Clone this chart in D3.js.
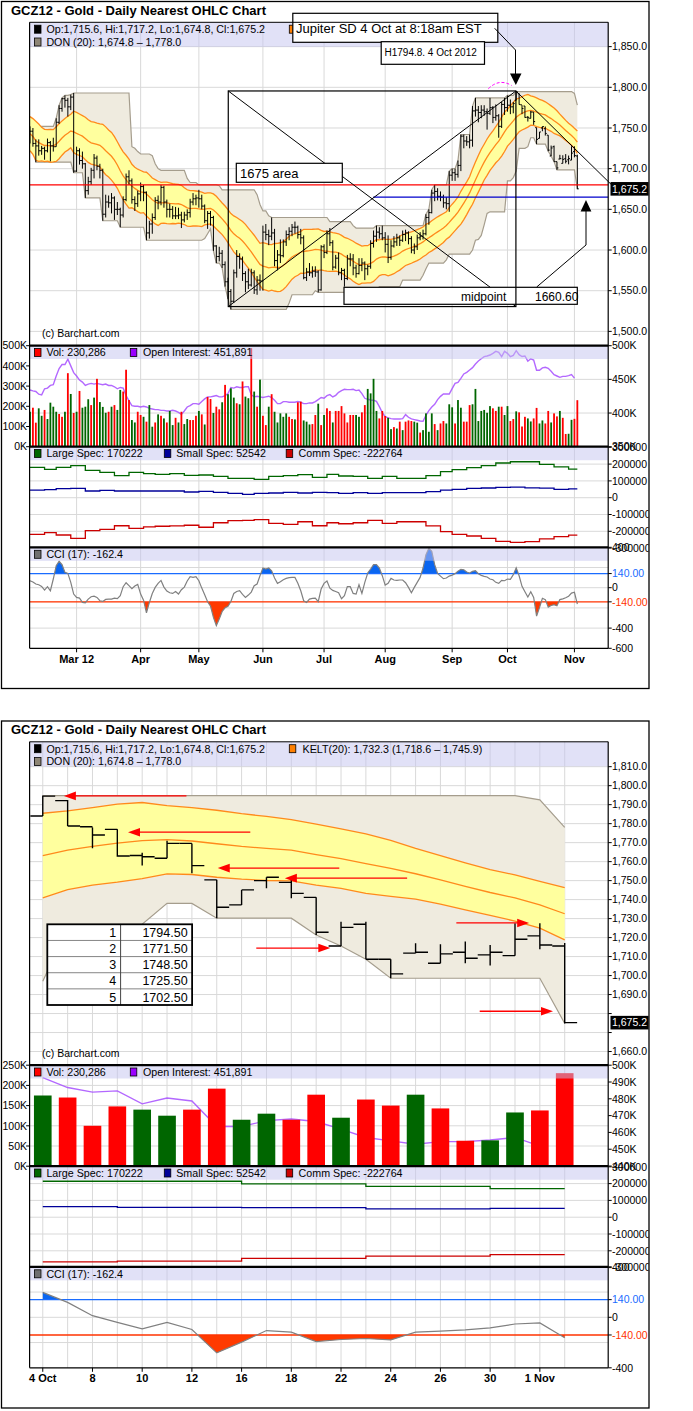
<!DOCTYPE html>
<html>
<head>
<meta charset="utf-8">
<script src="https://cdnjs.cloudflare.com/ajax/libs/d3/7.8.5/d3.min.js"></script>
<style>
  body { margin: 0; background: #fff; }
  svg text { font-family: 'Liberation Sans', Arial, sans-serif; }
</style>
</head>
<body>
<script>
// ---------------- data ----------------
var holidays = ['2012-02-20', '2012-04-06', '2012-05-28', '2012-07-04', '2012-09-03'];

var op = [1738,1746,1731,1728,1722,1725,1722,1732,1728,1727,1757,1774,1786,1784,1776,1788,
  1697,1722,1710,1706,1673,1684,1698,1713,1703,1698,1644,1659,1658,1664,1650,1650,1643,1662,1690,1685,1662,1657,
  1669,1678,1671,1621,1632,1640,1661,1659,1677,1659,1650,1650,1642,1642,1643,1637,1643,1646,1659,1663,
  1664,1663,1654,1636,1645,1640,1605,1592,1596,1582,1561,1549,1537,1572,1592,1589,1571,1561,1557,1572,1551,1563,
  1562,1622,1619,1617,1621,1587,1594,1593,1610,1619,1623,1628,1628,1619,1615,1566,1573,1572,1574,1573,1551,
  1604,1597,1620,1609,1579,1590,1572,1575,1565,1589,1589,1578,1571,1581,1584,1577,1580,1608,1617,1622,1620,
  1615,1607,1591,1605,1610,1615,1612,1619,1621,1614,1600,1604,1615,1617,1620,1640,1646,1670,1672,1666,1665,1658,1657,
  1692,1695,1693,1704,1740,1734,1733,1735,1771,1772,1769,1772,1770,1768,1775,1763,1765,1752,1779,
  1775,1778,1776,
  1784,1792.1,1778.4,1777,1763.2,1761.8,1769.6,1750.4,1737.2,1750,1749.1,1741.2,1715.6,1727,1708.6,1711.8,1706.5,1712.3,1710.9,1710.5,1720.9,1715.6];
var hi = [1752,1750,1736,1736,1728,1727,1737,1734,1738,1762,1778,1787,1790,1787,1791,1793,
  1727,1725,1721,1707,1690,1701,1718,1716,1706,1700,1668,1667,1670,1666,1659,1652,1666,1694,1698,1688,1666,1673,
  1683,1680,1672,1636,1645,1665,1667,1680,1679,1662,1657,1654,1653,1652,1647,1647,1650,1663,1670,1668,
  1674,1668,1656,1648,1648,1642,1606,1604,1600,1586,1566,1552,1576,1600,1596,1592,1574,1577,1577,1575,1568,1570,
  1630,1632,1625,1640,1626,1600,1613,1613,1624,1628,1632,1635,1630,1626,1618,1578,1584,1580,1580,1575,1606,
  1607,1624,1627,1612,1594,1597,1578,1577,1594,1596,1595,1582,1590,1590,1586,1582,1612,1624,1630,1628,1630,
  1622,1618,1612,1617,1620,1618,1624,1625,1623,1617,1608,1619,1622,1625,1644,1650,1674,1680,1676,1672,1668,1665,1697,
  1700,1700,1710,1742,1742,1740,1742,1777,1787,1777,1778,1778,1774,1787,1777,1779,1767,1782,1787,
  1790,1785,1782,
  1794.8,1792.5,1778.0,1777,1764.7,1771,1769.6,1750.4,1745.1,1751.8,1751.8,1741.2,1728.4,1728.4,1708.6,1717,1716.5,1717.9,1716.1,1727.5,1727.5,1717.2];
var lo = [1731,1727,1708,1716,1717,1711,1720,1709,1721,1727,1755,1770,1775,1764,1772,1695,
  1696,1705,1700,1664,1668,1680,1688,1698,1688,1636,1640,1652,1645,1637,1643,1628,1640,1660,1680,1657,1648,1653,
  1660,1660,1612,1614,1620,1637,1650,1655,1652,1640,1640,1638,1638,1638,1627,1634,1637,1640,1655,1655,
  1652,1650,1633,1626,1630,1599,1584,1586,1578,1555,1540,1527,1535,1566,1577,1562,1548,1552,1555,1546,1545,1550,
  1550,1612,1606,1612,1580,1575,1584,1591,1605,1612,1617,1620,1614,1607,1564,1562,1568,1566,1567,1548,1550,
  1590,1595,1605,1575,1577,1569,1563,1555,1563,1580,1569,1566,1570,1574,1563,1569,1577,1603,1610,1614,1612,
  1597,1584,1588,1603,1605,1605,1610,1611,1607,1596,1595,1600,1612,1613,1618,1631,1645,1660,1661,1660,1652,1650,1647,
  1685,1685,1689,1697,1725,1728,1725,1727,1764,1757,1762,1765,1748,1766,1756,1759,1738,1750,1766,
  1770,1767,1768,
  1784,1778.8,1767,1762.6,1757.9,1761.8,1753.9,1730.2,1737.2,1746,1740.7,1721.4,1715.6,1708.6,1698.6,1711.8,1706.5,1706.5,1705.3,1710.5,1713.9,1674.8];
var cl = [1746,1731,1728,1722,1725,1722,1732,1728,1727,1757,1774,1786,1784,1776,1788,1697,
  1722,1710,1706,1673,1684,1698,1713,1703,1698,1644,1659,1658,1664,1650,1650,1643,1662,1690,1685,1662,1657,1669,
  1678,1671,1621,1632,1640,1661,1659,1677,1659,1650,1650,1642,1642,1643,1637,1643,1646,1659,1663,1664,
  1663,1654,1636,1645,1640,1605,1592,1596,1582,1561,1549,1537,1572,1592,1589,1571,1561,1557,1572,1551,1563,1562,
  1622,1619,1617,1621,1587,1594,1593,1610,1619,1623,1628,1628,1619,1615,1566,1573,1572,1574,1573,1551,1604,
  1597,1620,1609,1579,1590,1572,1575,1565,1589,1589,1578,1571,1581,1584,1577,1580,1608,1617,1622,1620,1615,
  1607,1591,1605,1610,1615,1612,1619,1621,1614,1600,1604,1615,1617,1620,1640,1646,1670,1672,1666,1665,1658,1657,1692,
  1695,1693,1704,1740,1734,1733,1735,1771,1772,1769,1772,1770,1768,1775,1763,1765,1752,1779,1775,
  1778,1776,1780,
  1794.5,1778.8,1774,1763,1762.6,1769.6,1757.9,1736,1745.1,1751.8,1743.3,1722.8,1725.4,1708.6,1700.9,1712.3,1711.4,1709.1,1712.3,1719.1,1716.1,1675.2];

// volume in thousands, G = up day, R = down day
var vol = [173,193,119,190,153,182,137,218,198,173, 162,148,173,364,261,167,173,276,193,198,
  235,206,243,336,221,197,168,173,198,206, 182,281,273,381,231,132,120,173,157,148,
  124,206,99,120,160,153,140,120,177,107, 143,120,173,112,137,132,132,153,177,160,
  110,246,236,167,198,185,220,306,260,289, 243,215,210,323,248,240,488,273,198,332,
  153,107,198,260,173,120,165,148,165,148, 137,135,220,223,130,124,110,112,157,213, 107,
  157,190,177,120,177,177,201,165,120,157, 157,157,148,170,206,286,264,336,177,140,
  177,152,143,87,97,90,124,82,124,130, 127,124,119,70,82,165,74,165,112,82,
  115,127,115,210,195,115,231,193,124,124, 206,210,286,127,177,182,168,201,190,177,
  198,198,157,201,127,137,
  175,170,100,148,140,125,140,192,115,130,115,177,120,165,150,177,143,63,64,133,138,230.286];
var volDir = ('GRRGGRGGGG' + 'RRGRGRGRGG' + 'GRGRGGGRGR' + 'GGRRRGGRRG' + 'RGGRGRGRGG' +
  'RGRGGRRRGR' + 'GRRGRRGRGG' + 'GRGRGGRGRG' + 'RRGRGGGGGR' + 'RGRRGGGRRG' + 'R' +
  'GRRGRRRRRR' + 'RGGRRGGGGR' + 'RRGGRGRGRR' + 'RGGRGGGGRG' + 'RRGGGRGGRR' + 'RGGGGGGGRR' +
  'GRGGRR' + 'GRRRGGRRGGRRGRRGRRGGRR').split('');

// open interest in thousands
var oi = [434.2,433,432,428,427,436,437,441,442,455, 466,472,472,480,470,460,455,449,446,441,
  443,444,443,444,443,442,443,441,441,439, 436,438,437,426,418,411,410,410,409,410,
  409,407,406,405,405,404,404,403,403,404, 403,401,398,403,409,411,414,414,413,417,
  421,424,424,425,426,424,424,426,429,438, 437,439,438,438,439,439,427,424,425,424,
  423,424,425,423,419,414,414,417,417,416, 416,416,417,416,414,414,415,415,417,420, 423,
  421.9,425.8,427.3,423.9,426.3,430.8,433.3,435.2,434.7,434.7, 435.2,433.3,434.2,428.8,421.9,420.4,419.4,418.9,417.4,409.5,
  400.6,394.7,392.7,391.7,391.2,391.2,391.2,391.7,397.6,393.7, 391.2,390.2,389.2,388.2,387.7,396.7,403.6,409,413,419.9,
  424.8,428.3,428.3,428.3,436.2,444.1,445.6,451.6,458,460.5, 463.9,467.4,472.8,477.3,480.7,483.7,484.7,486.2,488.7,491.6,
  490.1,483.7,491.6,488.7,483.7,485.7,
  492.6,486.7,484,484.7,477,480.5,478.7,463.5,463.5,467,468,466.5,462,457,455,453,454.5,454.5,455.5,457,451.891,null];

var cci = [69,56,36,29,13,-23,10,-30,86,218, 261,228,152,142,53,-63,-96,-103,-146,-149,
  -113,-90,-83,-96,-129,-136,-116,-113,-113,-103, -109,-80,10,49,20,-10,16,33,-63,-123,
  -248,-146,-57,3,43,72,6,-33,-50,-57, -37,-63,-20,6,66,109,102,109,69,-4,
  -70,-139,-182,-294,-375,-311,-235,-199,-185,-136, -57,-37,-30,-66,-96,-73,-43,20,36,119,
  195,185,195,168,96,43,59,79,92,99, 102,102,43,-30,-129,-146,-113,-106,-103,-139,
  -13,43,66,-4,-27,-37,-50,-109,-80,10, 10,-57,-63,29,-57,53,145,185,228,228,
  195,119,26,43,92,76,72,76,76,49, 3,-50,3,53,102,195,327,390,360,228,
  142,115,89,96,115,125,139,162,182,178, 155,145,162,168,139,122,112,106,86,79,
  53,43,72,69,86,82,129,
  197,118,13,-40,-92,-40,-97,-282,-197,-105,-118,-192,-176,-168,-179,-118,-110,-100,-84,-53,-45,-162.4];

// weekly commitments of traders, thousands of contracts
var cotLarge = [180.8,168.9,180.8,190.7,162.9,151,131.2,151,143.1,139.1,143.1,133.1,135.1,127.2,115.3,115.3,109.1,127.2,131.2,137.1,
  121.2,139.1,129.2,127.2,115.3,127.2,115.3,115.3,131.2,155,166.9,178.8,190.7,206.5,214,214,198.6,184,170.222];
var cotSmall = [45.6,47.8,53.8,55.8,39.9,43.8,39.9,39.9,39.9,39.9,39.9,33.9,37.9,31.9,26,20,26,28,31.9,28,
  31.9,30,26,30,26,30,30,30,35.9,45.6,49.8,55.8,57.7,61.7,63,58,57,50,52.542];
var cotComm = [-218,-208,-222,-242,-196,-188,-167,-182,-174,-170,-168,-164,-176,-149,-137,-135,-131,-153,-159,-143,
  -167,-149,-155,-149,-135,-153,-143,-143,-168,-202,-218,-228,-242,-260,-266,-262,-245,-232,-222.764];

var monthLabels = ['Mar 12', 'Apr', 'May', 'Jun', 'Jul', 'Aug', 'Sep', 'Oct', 'Nov'];
var monthNums = [2, 3, 4, 5, 6, 7, 8, 9, 10];
var dayLabels = ['4 Oct', '8', '10', '12', '16', '18', '22', '24', '26', '30', '1 Nov'];
var dayDates = ['2012-10-04', '2012-10-08', '2012-10-10', '2012-10-12', '2012-10-16', '2012-10-18',
  '2012-10-22', '2012-10-24', '2012-10-26', '2012-10-30', '2012-11-01'];

var priceTicksTop = [1500, 1550, 1600, 1650, 1700, 1750, 1800, 1850];
var priceTicksZoom = [1660, 1670, 1680, 1690, 1700, 1710, 1720, 1730, 1740, 1750, 1760, 1770, 1780, 1790, 1800, 1810];
var volTicksTop = [0, 100, 200, 300, 400, 500];
var volTicksZoom = [0, 50, 100, 150, 200, 250];
var oiTicksTop = [350, 400, 450, 500];
var oiTicksZoom = [440, 450, 460, 470, 480, 490, 500];
var cotTicks = [300000, 200000, 100000, 0, -100000, -200000, -300000];
var cciTicksTop = [400, 140, 0, -140, -400, -600];
var cciTicksZoom = [400, 140, 0, -140, -400];

var tableRows = [1794.50, 1771.50, 1748.50, 1725.50, 1702.50];
// hand-drawn arrows on the zoomed chart: [price, tail bar, tip bar] (bars counted from 4 Oct)
var zoomArrows = [[1794.6, 5.78, 0.85], [1775.5, 8.35, 3.43], [1756.6, 11.93, 7.04], [1751.3, 14.66, 9.74],
  [1727.7, 16.64, 19.57], [1714.5, 8.59, 11.57], [1681.2, 17.58, 20.53]];

// ---------------- derived ----------------
var W = 693, H = 1411, PL = 29.6, PR = 608.2;
var svg = d3.select('body').append('svg').attr('width', W).attr('height', H).style('display', 'block');
var defs = svg.append('defs');

var dates = [];
for (var t = Date.UTC(2012, 1, 7); t <= Date.UTC(2012, 10, 2); t += 864e5) {
  var dt = new Date(t), wd = dt.getUTCDay();
  if (wd > 0 && wd < 6 && holidays.indexOf(dt.toISOString().slice(0, 10)) < 0) dates.push(dt);
}
var week = dates.map(function (d) { return Math.floor((d - dates[0]) / (7 * 864e5)); });
var monthIdx = monthNums.map(function (m) {
  return dates.findIndex(function (d) { return d.getUTCMonth() === m; });
});
var dayIdx = dayDates.map(function (s) {
  return dates.findIndex(function (d) { return d.toISOString().slice(0, 10) === s; });
});

function win(i, n) { return d3.range(Math.max(0, i - n + 1), i + 1); }
var donHi = cl.map(function (_, i) { return d3.max(win(i, 20), function (j) { return hi[j]; }); });
var donLo = cl.map(function (_, i) { return d3.min(win(i, 20), function (j) { return lo[j]; }); });
var kMid = cl.map(function (_, i) { return d3.mean(win(i, 20), function (j) { return (hi[j] + lo[j] + cl[j]) / 3; }); });
var kRng = cl.map(function (_, i) { return d3.mean(win(i, 20), function (j) { return hi[j] - lo[j]; }); });

var fmtP = d3.format(',.1f');

function label(sel, x, y, s, o) {
  o = o || {};
  return sel.append('text').attr('x', x).attr('y', y).text(s)
    .attr('font-size', o.size || 10.7)
    .attr('font-weight', o.bold ? 'bold' : null)
    .attr('font-family', o.serif ? "'Liberation Serif', 'Times New Roman', serif" : null)
    .attr('text-anchor', o.anchor || 'start')
    .attr('fill', o.fill || '#000');
}
function sq(sel, x, yc, color) {
  sel.append('rect').attr('x', x).attr('y', yc - 4).attr('width', 6.5).attr('height', 8)
    .attr('fill', color).attr('stroke', '#000').attr('stroke-width', 0.8);
}
function box(sel, x, y, w, h, sw) {
  return sel.append('rect').attr('x', x).attr('y', y).attr('width', w).attr('height', h)
    .attr('fill', '#fff').attr('stroke', '#000').attr('stroke-width', sw || 1.2);
}
function seg(sel, x1, y1, x2, y2, color, sw) {
  return sel.append('line').attr('x1', x1).attr('y1', y1).attr('x2', x2).attr('y2', y2)
    .attr('stroke', color || '#000').attr('stroke-width', sw || 1);
}

// ---------------- annotations ----------------
function topNotes(g, x, yP) {
  var bL = x(68.1), bR = x(166.9), bT = yP(1795.5), bB = yP(1530.5);
  seg(g, PL, yP(1680), PR, yP(1680), '#ff0000', 1.2);
  seg(g, x(117.9), yP(1665), PR, yP(1665), '#0000cc', 1.2);
  seg(g, bL, bT, bR, bB);
  seg(g, bL, bB, bR, bT);
  seg(g, bR, bT, 611.7, yP(1680));
  box(g, 236.3, 163.3, 106, 19);
  label(g, 240, 178, '1675 area', {size: 13});
  box(g, 344, 287.3, 233.3, 17);
  label(g, 461, 300.5, 'midpoint', {size: 12, serif: true});
  label(g, 535, 300.5, '1660.60', {size: 12, serif: true});
  g.append('rect').attr('x', bL).attr('y', bT).attr('width', bR - bL).attr('height', bB - bT)
    .attr('fill', 'none').attr('stroke', '#000').attr('stroke-width', 1.2);
  g.append('path').attr('d', 'M536.7,287L586,245V211').attr('fill', 'none').attr('stroke', '#000');
  g.append('path').attr('d', 'M580.6,211.5L591.4,211.5L586,200Z').attr('fill', '#000');
  label(g, 42, 337, '(c) Barchart.com', {size: 10.5});
}
function topNotesOver(g) {
  box(g, 292.8, 13.3, 205, 29);
  label(g, 296, 32.5, 'Jupiter SD 4 Oct at 8:18am EST', {size: 13});
  box(g, 381.2, 41.7, 103.3, 22.6);
  label(g, 384.5, 55.5, 'H1794.8. 4 Oct 2012', {size: 10, serif: true});
  g.append('path').attr('d', 'M494.7,28.3L515.5,50V74').attr('fill', 'none').attr('stroke', '#000');
  g.append('path').attr('d', 'M510,73.5L521.5,73.5L515.8,85Z').attr('fill', '#000');
  g.append('path').attr('d', 'M488.3,88.8Q499,78 511.7,85.5').attr('fill', 'none')
    .attr('stroke', '#ff00ff').attr('stroke-width', 1).attr('stroke-dasharray', '3,2');
}
function zoomNotes(g, x, yP, c) {
  zoomArrows.forEach(function (a) {
    var y = yP(a[0]), x1 = x(c.from + a[1]), x2 = x(c.from + a[2]), d = x2 < x1 ? 1 : -1;
    seg(g, x1, y, x2 + d * 11, y, '#ff0000', 1.3);
    g.append('path').attr('fill', '#ff0000')
      .attr('d', 'M' + x2 + ',' + y + 'L' + (x2 + d * 12) + ',' + (y - 4.3) + 'L' + (x2 + d * 12) + ',' + (y + 4.3) + 'Z');
  });
  var tx0 = 47.3, tx1 = 120.6, tx2 = 192.1, ty0 = 204.8, rh = 16.14;
  var tg = g.append('g');
  tg.append('rect').attr('x', tx0).attr('y', ty0).attr('width', tx2 - tx0).attr('height', rh * 5).attr('fill', '#fff');
  tableRows.forEach(function (v, k) {
    var yc = ty0 + rh * (k + 0.5);
    if (k > 0) seg(tg, tx0, ty0 + rh * k, tx2, ty0 + rh * k, '#666', 0.8);
    label(tg, tx1 - 4.5, yc + 4.6, String(k + 1), {size: 12.5, anchor: 'end'});
    label(tg, tx2 - 4.5, yc + 4.6, v.toFixed(2), {size: 12.5, anchor: 'end'});
  });
  seg(tg, tx1, ty0, tx1, ty0 + rh * 5, '#444', 1);
  tg.append('rect').attr('x', tx0).attr('y', ty0).attr('width', tx2 - tx0).attr('height', rh * 5)
    .attr('fill', 'none').attr('stroke', '#000').attr('stroke-width', 1.8);
  label(g, 42, 337, '(c) Barchart.com', {size: 10.5});
}

// ---------------- chart ----------------
function drawChart(c) {
  var T = 22.3, PB = 345.7, VB = 446.7, CB = 547.3, KB = 648.3;
  var g = svg.append('g').attr('transform', 'translate(0,' + c.y0 + ')');
  var x = d3.scaleLinear().domain(c.xDom).range([PL, PR]);
  var sp = x(1) - x(0);
  var idx = d3.range(c.from, c.to + 1);
  var yP = d3.scaleLinear().domain(c.priceDom).range([PB, T]);
  var yV = d3.scaleLinear().domain(c.volDom).range([VB, PB]);
  var yO = d3.scaleLinear().domain(c.oiDom).range([VB, PB]);
  var yC = d3.scaleLinear().domain([-295200, 303600]).range([CB, VB]);
  var yK = d3.scaleLinear().domain(c.cciDom).range([KB, CB]);

  function clip(name, x0, y1, w, y2) {
    defs.append('clipPath').attr('id', c.id + name).append('rect')
      .attr('x', x0).attr('y', y1).attr('width', w).attr('height', y2 - y1);
    return 'url(#' + c.id + name + ')';
  }
  var cp = clip('p', PL, T, PR - PL, PB), cv = clip('v', PL, PB, PR - PL, VB),
    cc = clip('c', PL, VB, PR - PL, CB), ck = clip('k', PL, CB, PR - PL, KB);

  g.append('rect').attr('x', 1.5).attr('y', 1.5).attr('width', 647.5).attr('height', 687)
    .attr('fill', '#fff').attr('stroke', '#000').attr('stroke-width', 1.3);
  label(g, 11, 14.8, 'GCZ12 - Gold - Daily Nearest OHLC Chart', {size: 13, bold: true});

  // grid
  var grid = g.append('g').attr('stroke', '#d9d9d9').attr('stroke-width', 1);
  function hl(y) { seg(grid, PL, y, PR, y, '#d9d9d9'); }
  c.vgrid.forEach(function (i) { seg(grid, x(i), T, x(i), KB, '#d9d9d9'); });
  c.priceTicks.forEach(function (p) { hl(yP(p)); });
  if (c.gridOI) c.oiTicks.forEach(function (v) { hl(yO(v * 1000)); });
  else c.volTicks.forEach(function (v) { hl(yV(v * 1000)); });
  [200000, 100000, 0, -100000, -200000].forEach(function (v) { hl(yC(v)); });
  c.cciGrid.forEach(function (v) { hl(yK(v)); });

  // price panel
  var gp = g.append('g').attr('clip-path', cp);
  gp.append('path').datum(idx).attr('fill', '#efebdf')
    .attr('d', d3.area().x(function (i) { return x(i); })
      .y0(function (i) { return yP(donLo[i]); }).y1(function (i) { return yP(donHi[i]); }));
  [donHi, donLo].forEach(function (s) {
    gp.append('path').datum(idx).attr('fill', 'none').attr('stroke', '#a59d8d').attr('stroke-width', 1.2)
      .attr('d', d3.line().x(function (i) { return x(i); }).y(function (i) { return yP(s[i]); }));
  });
  gp.append('path').datum(idx).attr('fill', '#ffff9e')
    .attr('d', d3.area().x(function (i) { return x(i); })
      .y0(function (i) { return yP(kMid[i] - kRng[i]); }).y1(function (i) { return yP(kMid[i] + kRng[i]); }));
  [-1, 0, 1].forEach(function (k) {
    gp.append('path').datum(idx).attr('fill', 'none').attr('stroke', '#ff8a1c').attr('stroke-width', 1.3)
      .attr('d', d3.line().x(function (i) { return x(i); }).y(function (i) { return yP(kMid[i] + k * kRng[i]); }));
  });
  gp.append('g').selectAll('path').data(idx).join('path')
    .attr('fill', 'none').attr('stroke', '#000').attr('stroke-width', c.barStroke)
    .attr('d', function (i) {
      var xi = x(i), h = sp * 0.5;
      return 'M' + xi + ',' + yP(hi[i]) + 'V' + yP(lo[i]) +
        'M' + (xi - h) + ',' + yP(op[i]) + 'H' + xi +
        'M' + xi + ',' + yP(cl[i]) + 'H' + (xi + h);
    });
  c.notes(g, x, yP, c);

  // volume + open interest
  var gv = g.append('g').attr('clip-path', cv);
  gv.append('path').datum(idx.filter(function (i) { return oi[i] != null; }))
    .attr('fill', 'none').attr('stroke', '#a64dff').attr('stroke-width', 1.4).attr('stroke-opacity', 0.85)
    .attr('d', d3.line().x(function (i) { return x(i); }).y(function (i) { return yO(oi[i] * 1000); }));
  var bw = sp * c.bw;
  gv.append('g').selectAll('rect').data(idx).join('rect')
    .attr('x', function (i) { return x(i) - bw / 2; }).attr('width', bw)
    .attr('y', function (i) { return yV(vol[i] * 1000); })
    .attr('height', function (i) { return VB - yV(vol[i] * 1000); })
    .attr('fill', function (i) { return volDir[i] === 'G' ? '#006600' : '#ff0000'; });

  // commitments of traders
  var gc = g.append('g').attr('clip-path', cc);
  [[cotLarge, '#006600'], [cotSmall, '#000099'], [cotComm, '#cc0000']].forEach(function (s) {
    gc.append('path').datum(idx).attr('fill', 'none').attr('stroke', s[1]).attr('stroke-width', 1.3)
      .attr('d', d3.line().curve(d3.curveStepAfter).x(function (i) { return x(i); })
        .y(function (i) { return yC(s[0][week[i]] * 1000); }));
  });

  // CCI
  var gk = g.append('g').attr('clip-path', ck);
  var ca = clip('ka', PL, CB, PR - PL, yK(140)), cb = clip('kb', PL, yK(-140), PR - PL, KB);
  gk.append('path').datum(idx).attr('clip-path', ca).attr('fill', '#0a66f0')
    .attr('d', d3.area().x(function (i) { return x(i); }).y0(yK(140)).y1(function (i) { return yK(cci[i]); }));
  gk.append('path').datum(idx).attr('clip-path', cb).attr('fill', '#ff3a00')
    .attr('d', d3.area().x(function (i) { return x(i); }).y0(yK(-140)).y1(function (i) { return yK(cci[i]); }));
  seg(gk, PL, yK(140), PR, yK(140), '#1a6cff', 1.3);
  seg(gk, PL, yK(-140), PR, yK(-140), '#ff3300', 1.3);
  gk.append('path').datum(idx).attr('fill', 'none').attr('stroke', '#808080').attr('stroke-width', 1.2)
    .attr('d', d3.line().x(function (i) { return x(i); }).y(function (i) { return yK(cci[i]); }));

  // legend bands + legends
  [[T, 46.8], [PB, 359], [VB, 460.2], [CB, 560.8]].forEach(function (b) {
    g.append('rect').attr('x', PL).attr('y', b[0]).attr('width', PR - PL).attr('height', b[1] - b[0])
      .attr('fill', '#c4c4f0').attr('opacity', 0.5);
  });
  var lg = g.append('g');
  sq(lg, 34.5, 29.2, '#000'); label(lg, 46.4, 33, 'Op:1,715.6, Hi:1,717.2, Lo:1,674.8, Cl:1,675.2');
  sq(lg, 289.3, 29.2, '#ff7f00');
  if (c.keltText) label(lg, 302.5, 33, 'KELT(20): 1,732.3 (1,718.6 \u2013 1,745.9)');
  sq(lg, 34.5, 42, '#8e8676'); label(lg, 46.4, 45.8, 'DON (20): 1,674.8 \u2013 1,778.0');
  sq(lg, 34.5, 352.5, '#ff0000'); label(lg, 46.4, 356.3, 'Vol: 230,286');
  sq(lg, 130.3, 352.5, '#9900ff'); label(lg, 143, 356.3, 'Open Interest: 451,891');
  sq(lg, 34.5, 453.5, '#006600'); label(lg, 46.4, 457.3, 'Large Spec: 170222');
  sq(lg, 164.3, 453.5, '#000099'); label(lg, 176.2, 457.3, 'Small Spec: 52542');
  sq(lg, 286.2, 453.5, '#cc0000'); label(lg, 298.6, 457.3, 'Comm Spec: -222764');
  sq(lg, 34.5, 554.3, '#707070'); label(lg, 46.4, 558.1, 'CCI (17): -162.4');
  if (c.over) c.over(g);

  // borders
  seg(g, PL, T, PR, T, '#000', 1);
  seg(g, PL, T, PL, KB, '#000', 1.2);
  seg(g, PR, T, PR, KB, '#000', 1.2);
  seg(g, PL, KB, PR, KB, '#000', 1.2);
  [PB, VB, CB].forEach(function (y) { seg(g, PL, y, PR, y, '#000', 2.2); });

  // right axis
  var ra = g.append('g').attr('clip-path', clip('r', 0, 0, 648.6, 690));
  function rt(y, s, col) {
    seg(ra, PR, y, PR + 3.5, y, '#000', 1);
    if (s !== null) label(ra, 612, y + 3.7, s, {size: 10.5, fill: col});
  }
  var yLast = yP(cl[cl.length - 1]);
  c.priceTicks.forEach(function (p) {
    rt(yP(p), Math.abs(yP(p) - yLast) < 10 ? null : fmtP(p));
  });
  c.oiTicks.forEach(function (v) { rt(yO(v * 1000), v + 'K'); });
  cotTicks.forEach(function (v) { rt(yC(v), String(v)); });
  c.cciTicks.forEach(function (v) {
    rt(yK(v), v === 140 ? '140.00' : v === -140 ? '-140.00' : String(v),
      v === 140 ? '#1a6cff' : v === -140 ? '#ff3300' : '#000');
  });
  ra.append('rect').attr('x', 610.5).attr('y', yLast - 6.8).attr('width', 40).attr('height', 13.6).attr('fill', '#000');
  label(ra, 612, yLast + 3.8, fmtP(cl[cl.length - 1]), {size: 10.5, fill: '#fff'});

  // left volume axis
  c.volTicks.forEach(function (v) {
    var y = yV(v * 1000);
    seg(g, PL - 3.5, y, PL, y, '#000', 1);
    label(g, 27, y + 3.7, v + 'K', {size: 10.5, anchor: 'end'});
  });

  // x axis
  c.xt.forEach(function (i, k) {
    seg(g, x(i), KB, x(i), KB + 4, '#000', 1);
    label(g, x(i), KB + 14.2, c.xl[k], {size: 11, bold: true, anchor: 'middle'});
  });
}

drawChart({
  id: 't', y0: 0, from: 0, to: cl.length - 1, xDom: [-0.14, 198.6],
  priceDom: [1482.4, 1879.9], priceTicks: priceTicksTop,
  volDom: [0, 500000], volTicks: volTicksTop, oiDom: [350000, 500000], oiTicks: oiTicksTop, gridOI: true,
  cciDom: [-600, 400], cciTicks: cciTicksTop, cciGrid: [200, 0, -200, -400],
  vgrid: monthIdx, xt: monthIdx, xl: monthLabels, barStroke: 1, bw: 0.62, keltText: false,
  notes: topNotes, over: topNotesOver
});
drawChart({
  id: 'b', y0: 719.5, from: 167, to: cl.length - 1, xDom: [166.47, 189.75],
  priceDom: [1652.8, 1823.1], priceTicks: priceTicksZoom,
  volDom: [0, 250000], volTicks: volTicksZoom, oiDom: [439900, 500000], oiTicks: oiTicksZoom, gridOI: false,
  cciDom: [-400, 400], cciTicks: cciTicksZoom, cciGrid: [200, 0, -200], keltText: true,
  vgrid: d3.range(167, cl.length), xt: dayIdx, xl: dayLabels, barStroke: 1.4, bw: 0.71,
  notes: zoomNotes
});
</script>
</body>
</html>
